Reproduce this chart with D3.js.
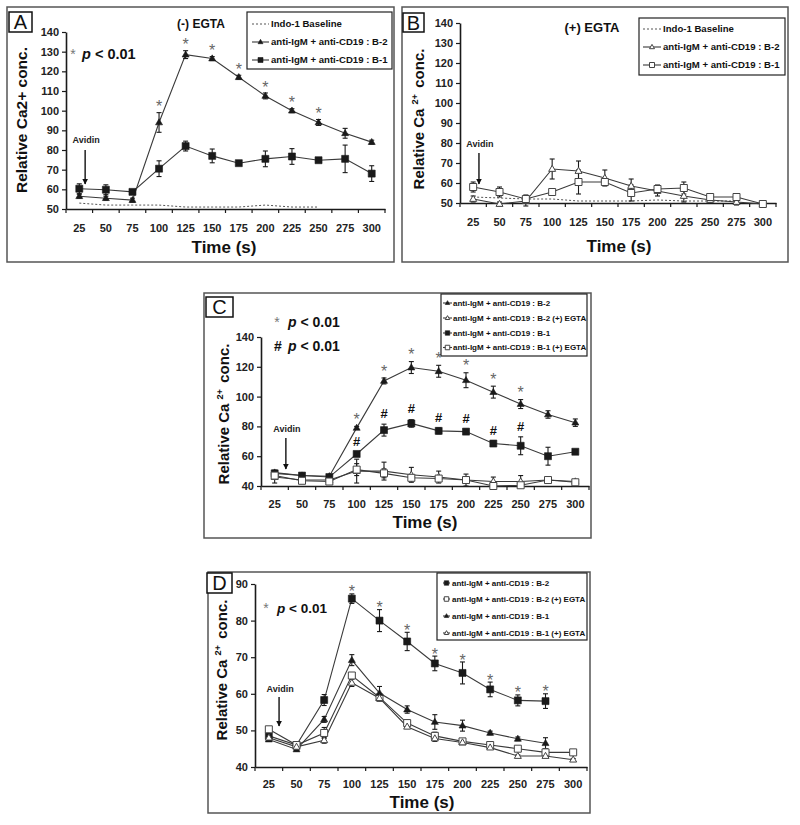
<!DOCTYPE html>
<html><head><meta charset="utf-8">
<script src="https://cdn.jsdelivr.net/npm/d3@7"></script>
<style>body{margin:0;background:#fff;} svg{display:block;font-family:"Liberation Sans",Arial,sans-serif;}</style>
</head><body><svg id="c" width="800" height="825"></svg>
<script>
const times = [25,50,75,100,125,150,175,200,225,250,275,300];
const nameB2 = "anti-IgM + anti-CD19 : B-2";
const nameB1 = "anti-IgM + anti-CD19 : B-1";
const nameBase = "Indo-1 Baseline";

// Panel A  (-) EGTA
const A_yTicks = [50,60,70,80,90,100,110,120,130,140];
const A_baseline = [53,52,52,52,51,51,51,52,51,51,null,null];
const A_B2 = [56.5,55.5,54.5,94,128.5,126.5,117,107.5,100,94,88.5,84];
const A_B2_err = [1,1,1,5,2,1,1,1.5,1,1.5,2.5,1];
const A_B1 = [60.3,59.8,58.7,70.5,82,77,73.3,75.5,76.7,74.8,75.5,68];
const A_B1_err = [2.5,2.5,1,4,2.5,3.5,1,4,4,1,7,4];
const A_stars = [100,125,150,175,200,225,250];

// Panel B  (+) EGTA
const B_yTicks = [50,60,70,80,90,100,110,120,130,140];
const B_baseline = [53,52.5,52,52,51,51,51,51.5,51,51,51,null];
const B_B2 = [52,49.5,51,67,66,62.5,58.5,56,53.5,51.5,50.5,49.5];
const B_B2_err = [1.5,1,2.5,5,5,4,3.5,2.5,3,1.5,1.5,1.5];
const B_B1 = [58,55.5,52,55.5,60.5,60.5,55,57,57.5,53,53,49.5];
const B_B1_err = [2.5,2.5,2,1.5,6,1.5,4,2,3,1,1.5,1];

// Panel C
const C_yTicks = [40,60,80,100,120,140];
const C_B2 = [49,47,46.5,79,110.5,119.5,117,111,103,95,88,82.5];
const C_B2_err = [1.5,1,1,1,2,4,4,5,4,3,2.5,2.5];
const C_B2E = [46,44,44,50,50,47.5,46,44,43,43,44,43];
const C_B2E_err = [4,2,2,8,6,5,4,4,3,4,1,1];
const C_B1 = [48.5,47,46,61.5,77.5,82,77,76.5,68.5,67,60,63];
const C_B1_err = [2,1,1.5,1,4,2.5,2,1.5,1.5,6,6,1];
const C_B1E = [47,43.5,43,51,48.5,45.5,45,44,40,40.5,44,42.5];
const C_B1E_err = [2,1.5,1,4,3,2,2,2,1,1,1,1];
const C_stars = [100,125,150,175,200,225,250];
const C_hashes = [100,125,150,175,200,225,250];

// Panel D
const D_yTicks = [40,50,60,70,80,90];
const D_B2 = [48.5,46,58.3,86,80,74.3,68.3,65.7,61.2,58.2,58,null];
const D_B2_err = [1,0.5,1.5,1.3,3,2.5,2,3,2,1.5,2,null];
const D_B2E = [50.3,46,49.3,65,59,52,48.5,47,46,45,44,44];
const D_B2E_err = [0.7,0.5,1.5,0.8,0.8,0.8,1,0.5,0.5,0.3,0.3,0.3];
const D_B1 = [47.5,44.8,53,69.2,60.2,55.7,52.3,51.3,49.3,47.7,46.5,null];
const D_B1_err = [0.5,0.5,0.8,1.5,1.8,1,2,1.5,0.5,0.5,1.5,null];
const D_B1E = [48,45.5,47.3,63,58.8,51,47.8,46.7,45.3,43,43,42];
const D_B1E_err = [1,0.5,0.8,1,0.8,0.5,0.8,0.5,0.5,0.3,0.3,0.3];
const D_stars = [100,125,150,175,200,225,250,275];

const svg = d3.select('#c');
const defs = svg.append('defs');
defs.append('marker').attr('id','ah').attr('viewBox','0 0 10 10')
  .attr('refX',9).attr('refY',5).attr('markerWidth',6).attr('markerHeight',6)
  .attr('markerUnits','userSpaceOnUse').attr('orient','auto')
  .append('path').attr('d','M0,0 L10,5 L0,10 z').attr('fill','#111');

const INK = '#1a1a1a';
const LINE = '#3a3a3a';

function drawMarker(g, type, filled, x, y, s){
  let sym;
  if(type==='tri') sym = d3.symbol(d3.symbolTriangle, s*s*0.433)();
  else sym = d3.symbol(d3.symbolSquare, s*s)();
  g.append('path').attr('d',sym)
    .attr('transform',`translate(${x},${y + (type==='tri'? s*0.05:0)})`)
    .attr('fill', filled? INK : '#fff')
    .attr('stroke', filled? INK : '#444').attr('stroke-width', filled?0.6:1);
}

function panel(cfg){
  const g = svg.append('g');
  const b = cfg.box;
  g.append('rect').attr('x',b[0]).attr('y',b[1]).attr('width',b[2]-b[0]).attr('height',b[3]-b[1])
    .attr('fill','#fff').attr('stroke','#555').attr('stroke-width',1.5);

  const x = d3.scaleBand().domain(times).range([cfg.left,cfg.right]);
  const bw = x.bandwidth();
  const cx = t => x(t)+bw/2;
  const y = d3.scaleLinear().domain([cfg.yTicks[0], cfg.yTicks[cfg.yTicks.length-1]]).range([cfg.bottom,cfg.top]);

  // panel letter (drawn early so axis title stays visible)
  const pl = cfg.letter;
  g.append('rect').attr('x',pl.x).attr('y',pl.y).attr('width',pl.w).attr('height',pl.h)
    .attr('fill','#fff').attr('stroke','#111').attr('stroke-width',1.5);
  g.append('text').attr('x',pl.x+pl.w/2).attr('y',pl.y+pl.h/2+7).attr('text-anchor','middle')
    .attr('font-size',20).attr('fill','#111').text(pl.t);

  // y axis
  const ya = g.append('g').attr('transform',`translate(${cfg.left},0)`)
    .call(d3.axisLeft(y).tickValues(cfg.yTicks).tickSize(4).tickPadding(3).tickSizeOuter(0));
  // x axis
  const xa = g.append('g').attr('transform',`translate(0,${cfg.bottom})`)
    .call(d3.axisBottom(x).tickSize(0).tickPadding(cfg.xPad).tickSizeOuter(0));
  [ya,xa].forEach(a=>{
    a.select('.domain').attr('stroke',INK).attr('stroke-width',1.6);
    a.selectAll('.tick line').attr('stroke',INK).attr('stroke-width',1.2);
    a.selectAll('text').attr('font-size',11).attr('font-weight','bold').attr('fill','#222')
      .attr('font-family','"Liberation Sans",Arial,sans-serif');
  });
  // category boundary ticks
  d3.range(times.length+1).forEach(i=>{
    const xx = cfg.left + i*bw;
    g.append('line').attr('x1',xx).attr('x2',xx).attr('y1',cfg.bottom).attr('y2',cfg.bottom+4)
      .attr('stroke',INK).attr('stroke-width',1.2);
  });

  // axis titles
  g.append('text').attr('x',cfg.xTitle[0]).attr('y',cfg.xTitle[1]).attr('text-anchor','middle')
    .attr('font-size',17).attr('font-weight','bold').attr('fill','#111').text('Time (s)');
  const yt = g.append('text').attr('transform',`translate(${cfg.yTitle[0]},${cfg.yTitle[1]}) rotate(-90)`)
    .attr('text-anchor','middle').attr('font-size',cfg.yTitleFs).attr('font-weight','bold').attr('fill','#111');
  if(cfg.sup){
    yt.append('tspan').text('Relative Ca');
    yt.append('tspan').attr('dx',4).attr('dy',-6).attr('font-size',cfg.yTitleFs*0.62).text('2+');
    yt.append('tspan').attr('dx',2).attr('dy',6).text(' conc.');
  } else {
    yt.text('Relative Ca2+ conc.');
  }

  // series lines
  const series = cfg.series;
  series.forEach(s=>{
    const line = d3.line().defined(d=>d[1]!=null).x(d=>cx(d[0])).y(d=>y(d[1]));
    g.append('path').datum(times.map((t,i)=>[t,s.v[i]]))
      .attr('d',line).attr('fill','none')
      .attr('stroke', s.dotted? '#555' : LINE)
      .attr('stroke-width', s.dotted? 1 : 1.1)
      .attr('stroke-dasharray', s.dotted? '2,2' : null);
  });
  // error bars
  series.forEach(s=>{
    if(!s.e) return;
    times.forEach((t,i)=>{
      const v=s.v[i], e=s.e[i];
      if(v==null||e==null) return;
      const xx=cx(t), y1=y(v+e), y2=y(v-e);
      g.append('line').attr('x1',xx).attr('x2',xx).attr('y1',y1).attr('y2',y2).attr('stroke',INK).attr('stroke-width',1.1);
      [y1,y2].forEach(yy=>g.append('line').attr('x1',xx-2.5).attr('x2',xx+2.5).attr('y1',yy).attr('y2',yy).attr('stroke',INK).attr('stroke-width',1.1));
    });
  });
  // markers
  series.forEach(s=>{
    if(!s.m) return;
    times.forEach((t,i)=>{
      if(s.v[i]==null) return;
      drawMarker(g, s.m, s.f, cx(t), y(s.v[i]), cfg.ms);
    });
  });

  // significance marks
  (cfg.marks||[]).forEach(mk=>{
    const s = series[mk.series];
    mk.times.forEach(t=>{
      const i = times.indexOf(t);
      const top = y(s.v[i] + (s.e? s.e[i]:0));
      const c = top - mk.off;
      g.append('text').attr('x',cx(t)).attr('y', c + mk.fs*mk.k).attr('text-anchor','middle')
        .attr('font-size',mk.fs).attr('font-weight',mk.bold?'bold':'normal').attr('fill',mk.color).text(mk.ch);
    });
  });

  // p-value notes
  (cfg.notes||[]).forEach(n=>{
    g.append('text').attr('x',n.sx).attr('y',n.y).attr('text-anchor','middle').attr('font-size',n.sfs)
      .attr('font-weight',n.sbold?'bold':'normal').attr('fill',n.scolor).text(n.sym);
    const t = g.append('text').attr('x',n.tx).attr('y',n.y).attr('font-size',n.fs).attr('font-weight','bold').attr('fill','#111');
    t.append('tspan').attr('font-style','italic').text('p');
    t.append('tspan').text(' < 0.01');
  });

  // condition label
  if(cfg.cond){
    g.append('text').attr('x',cfg.cond.x).attr('y',cfg.cond.y).attr('text-anchor','middle')
      .attr('font-size',cfg.cond.fs).attr('font-weight','bold').attr('fill','#111').text(cfg.cond.text);
  }

  // Avidin
  const av = cfg.avidin;
  const ax = cx(times[0]) + av.frac*bw;
  g.append('text').attr('x',ax+1).attr('y',av.ty).attr('text-anchor','middle').attr('font-size',9)
    .attr('font-weight','bold').attr('fill','#222').text('Avidin');
  g.append('line').attr('x1',ax).attr('x2',ax).attr('y1',av.y1).attr('y2',av.y2)
    .attr('stroke','#111').attr('stroke-width',1.4).attr('marker-end','url(#ah)');

  // legend
  const L = cfg.legend;
  g.append('rect').attr('x',L.x).attr('y',L.y).attr('width',L.w).attr('height',L.h)
    .attr('fill','#fff').attr('stroke','#222').attr('stroke-width',1.2);
  L.rows.forEach((si,k)=>{
    const s = series[si];
    const yy = L.rowY[k];
    g.append('line').attr('x1',L.lx1).attr('x2',L.lx2).attr('y1',yy).attr('y2',yy)
      .attr('stroke', s.dotted? '#555':LINE).attr('stroke-width',1.1)
      .attr('stroke-dasharray', s.dotted? '2,2':null);
    if(s.m) drawMarker(g, s.m, s.f, (L.lx1+L.lx2)/2, yy, L.ms);
    g.append('text').attr('x',L.tx).attr('y',yy+L.fs*0.36).attr('font-size',L.fs).attr('font-weight','bold')
      .attr('fill','#111').text(s.name);
  });
}

// ---------- Panel A ----------
panel({
  box:[7,7,394,262], left:66, right:385, top:32, bottom:209, yTicks:A_yTicks, xPad:15,
  xTitle:[224,253], yTitle:[27,120], yTitleFs:15.5, sup:false, ms:7,
  series:[
    {name:nameBase, v:A_baseline, dotted:true},
    {name:nameB2, v:A_B2, e:A_B2_err, m:'tri', f:true},
    {name:nameB1, v:A_B1, e:A_B1_err, m:'sq', f:true}
  ],
  marks:[{series:1, times:A_stars, ch:'*', fs:16, k:0.6, off:10, color:'#666'}],
  notes:[{sym:'*', sx:73, sfs:14, scolor:'#777', tx:82, y:59, fs:14.5}],
  cond:{text:'(-) EGTA', x:201, y:28, fs:12},
  avidin:{frac:0.22, ty:143, y1:150, y2:184},
  letter:{x:9, y:12, w:23, h:20, t:'A'},
  legend:{x:247, y:12, w:145, h:57, rows:[0,1,2], rowY:[24,42,60], lx1:252, lx2:269, tx:271, fs:9.6, ms:5}
});

// ---------- Panel B ----------
panel({
  box:[402,7,788,262], left:460, right:776, top:23, bottom:203, yTicks:B_yTicks, xPad:15,
  xTitle:[619,252], yTitle:[424,119], yTitleFs:15, sup:true, ms:7,
  series:[
    {name:nameBase, v:B_baseline, dotted:true},
    {name:nameB2, v:B_B2, e:B_B2_err, m:'tri', f:false},
    {name:nameB1, v:B_B1, e:B_B1_err, m:'sq', f:false}
  ],
  cond:{text:'(+) EGTA', x:592, y:32, fs:13},
  avidin:{frac:0.22, ty:147, y1:153, y2:184},
  letter:{x:403, y:13, w:21, h:19, t:'B'},
  legend:{x:639, y:18, w:146, h:57, rows:[0,1,2], rowY:[29,47,65], lx1:643, lx2:661, tx:663, fs:9.6, ms:5}
});

// ---------- Panel C ----------
panel({
  box:[204,293,591,538], left:261, right:589, top:337, bottom:486, yTicks:C_yTicks, xPad:14,
  xTitle:[425,528], yTitle:[229,414], yTitleFs:15, sup:true, ms:7,
  series:[
    {name:nameB2, v:C_B2, e:C_B2_err, m:'tri', f:true},
    {name:nameB2+' (+) EGTA', v:C_B2E, e:C_B2E_err, m:'tri', f:false},
    {name:nameB1, v:C_B1, e:C_B1_err, m:'sq', f:true},
    {name:nameB1+' (+) EGTA', v:C_B1E, e:C_B1E_err, m:'sq', f:false}
  ],
  marks:[
    {series:0, times:C_stars, ch:'*', fs:16, k:0.6, off:11, color:'#666'},
    {series:2, times:C_hashes, ch:'#', fs:13, k:0.36, off:11, color:'#111', bold:true}
  ],
  notes:[
    {sym:'*', sx:277, sfs:14, scolor:'#777', tx:288, y:327, fs:14},
    {sym:'#', sx:278, sfs:14, sbold:true, scolor:'#111', tx:288, y:351, fs:14}
  ],
  avidin:{frac:0.41, ty:432, y1:438, y2:469},
  letter:{x:206, y:297, w:27, h:20, t:'C'},
  legend:{x:441, y:294, w:146, h:62, rows:[0,1,2,3], rowY:[303,318,333,347.5], lx1:443, lx2:452, tx:453, fs:8, ms:4.5}
});

// ---------- Panel D ----------
panel({
  box:[208,572,590,813], left:255, right:587, top:584, bottom:767, yTicks:D_yTicks, xPad:13,
  xTitle:[422,808], yTitle:[227,670], yTitleFs:15, sup:true, ms:7,
  series:[
    {name:nameB2, v:D_B2, e:D_B2_err, m:'sq', f:true},
    {name:nameB2+' (+) EGTA', v:D_B2E, e:D_B2E_err, m:'sq', f:false},
    {name:nameB1, v:D_B1, e:D_B1_err, m:'tri', f:true},
    {name:nameB1+' (+) EGTA', v:D_B1E, e:D_B1E_err, m:'tri', f:false}
  ],
  marks:[{series:0, times:D_stars, ch:'*', fs:16, k:0.6, off:6, color:'#666'}],
  notes:[{sym:'*', sx:266, sfs:14, scolor:'#777', tx:277, y:613, fs:13.5}],
  avidin:{frac:0.37, ty:692, y1:697, y2:726},
  letter:{x:207, y:573, w:25, h:20, t:'D'},
  legend:{x:437, y:573, w:150, h:67, rows:[0,1,2,3], rowY:[583,599,616,633], lx1:443, lx2:450, tx:452, fs:8, ms:4.5}
});
</script></body></html>
